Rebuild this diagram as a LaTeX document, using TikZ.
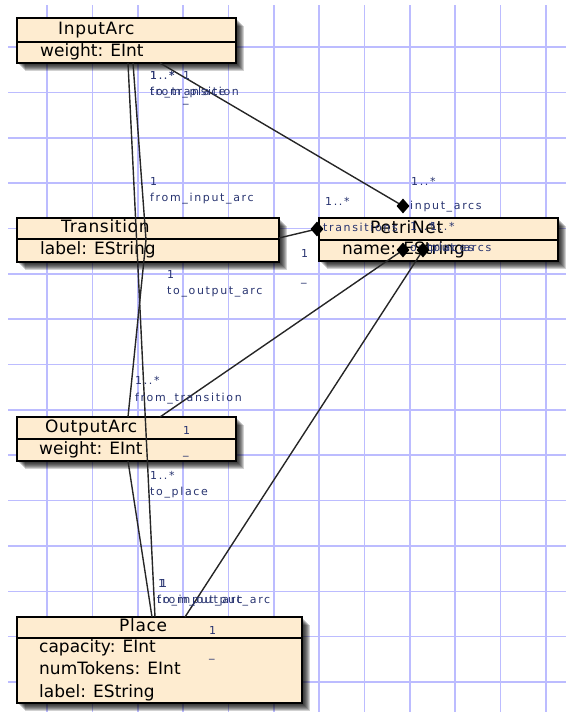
\documentclass[tikz,border=0pt]{standalone}
\usepackage{fontspec}
\setmainfont{DejaVu Sans}
\newfontfamily\lblfont{DejaVu Sans}[LetterSpace=15]
\newfontfamily\titlefont{DejaVu Sans}[LetterSpace=4]
\usetikzlibrary{shapes.geometric}

\definecolor{gridblue}{RGB}{188,188,255}
\definecolor{classfill}{RGB}{254,236,208}
\definecolor{rolecol}{RGB}{40,52,112}

\tikzset{
  gridline/.style={gridblue, line width=1.6pt},
  classbox/.style={draw=black, line width=1.5pt, fill=classfill, inner sep=0pt},
  divider/.style={draw=black, line width=1.5pt},
  classtext/.style={anchor=west, inner sep=0pt, font=\fontsize{17}{20}\selectfont,
    text height=12.5pt, text depth=3.5pt},
  classtitle/.style={classtext, font=\titlefont\fontsize{17}{20}\selectfont},
  rolelabel/.style={anchor=west, inner sep=0pt, text=rolecol,
    font=\lblfont\fontsize{11}{13}\selectfont, text height=8pt, text depth=2.5pt},
  assoc/.style={draw=black!85, line width=1.4pt},
  compdiamond/.style={diamond, fill=black, inner sep=0pt,
    minimum width=13pt, minimum height=15pt},
}

% soft drop shadow below and right of a class box (left, top, right, bottom)
\newcommand\castshadow[4]{%
  \foreach \k in {1,...,8}{%
    \fill[black,opacity=0.18] ({#1+\k},{#2+\k}) rectangle ({#3+\k},{#4+\k});}}

\begin{document}
\begin{tikzpicture}[x=1pt,y=-1pt]
\useasboundingbox (0,0) rectangle (566,724);

% background grid
\foreach \i in {0,...,11}
  \draw[gridline] ({47+45.35*\i},5) -- ({47+45.35*\i},712);
\foreach \j in {0,...,14}
  \draw[gridline] (8,{47+45.36*\j}) -- (566,{47+45.36*\j});

% shadows
\castshadow{17}{18}{236}{63}
\castshadow{17}{218}{279}{262}
\castshadow{319}{218}{558}{261}
\castshadow{17}{417}{236}{461}
\castshadow{17}{617}{302}{703}

% class boxes
\node[classbox, minimum width=219pt, minimum height=45pt] (inputarc) at (126.5,40.5) {};
\draw[divider] (inputarc.west |- 0,42) -- (inputarc.east |- 0,42);
\node[classtitle] (inputarc-name) at (58,30) {InputArc};
\node[classtext] (inputarc-weight) at (40,52) {weight: EInt};

\node[classbox, minimum width=262pt, minimum height=44pt] (transition) at (148,240) {};
\draw[divider] (transition.west |- 0,239) -- (transition.east |- 0,239);
\node[classtitle] (transition-name) at (61,228) {Transition};
\node[classtext] (transition-label) at (40,250) {label: EString};

\node[classbox, minimum width=239pt, minimum height=43pt] (petrinet) at (438.5,239.5) {};
\draw[divider] (petrinet.west |- 0,240) -- (petrinet.east |- 0,240);
\node[classtitle] (petrinet-name) at (370,229) {PetriNet};
\node[classtext] (petrinet-attr) at (342,250) {name: EString};

\node[classbox, minimum width=219pt, minimum height=44pt] (outputarc) at (126.5,439) {};
\draw[divider] (outputarc.west |- 0,439) -- (outputarc.east |- 0,439);
\node[classtitle] (outputarc-name) at (45,428) {OutputArc};
\node[classtext] (outputarc-weight) at (39,450) {weight: EInt};

\node[classbox, minimum width=285pt, minimum height=86pt] (place) at (159.5,660) {};
\draw[divider] (place.west |- 0,638) -- (place.east |- 0,638);
\node[classtitle] (place-name) at (119,627) {Place};
\node[classtext] (place-cap) at (39,648) {capacity: EInt};
\node[classtext] (place-tok) at (39,670) {numTokens: EInt};
\node[classtext] (place-label) at (39,693) {label: EString};

% connector end points
\coordinate (ia-pn) at (160,63);
\coordinate (ia-tr) at (133,63);
\coordinate (ia-pl) at (128,63);
\coordinate (tr-mid) at (146,240);
\coordinate (tr-pn) at (279,238);
\coordinate (oa-tr) at (128,417);
\coordinate (oa-pn) at (160,417);
\coordinate (oa-pl) at (128,461);
\coordinate (pl-ia) at (155,617);
\coordinate (pl-oa) at (152,617);
\coordinate (pl-pn) at (185,617);
\coordinate (pn-input) at (403,206);
\coordinate (pn-trans) at (317,229);
\coordinate (pn-output) at (403,250);
\coordinate (pn-places) at (423,250);

% associations
\draw[assoc] (ia-pn) -- (pn-input);
\draw[assoc] (ia-tr) -- (tr-mid);
\draw[assoc] (ia-pl) -- (pl-ia);
\draw[assoc] (tr-pn) -- (pn-trans);
\draw[assoc] (tr-mid) -- (oa-tr);
\draw[assoc] (oa-pn) -- (pn-output);
\draw[assoc] (oa-pl) -- (pl-oa);
\draw[assoc] (pl-pn) -- (pn-places);

% role names and multiplicities
\node[rolelabel] (m-ia-tr) at (150,77) {1..*};
\node[rolelabel] (m-ia-pl) at (150,77) {1..*};
\node[rolelabel] (m-ia-pn) at (183,77) {1};
\node[rolelabel] (r-ia-tr) at (150,93) {to\_transition};
\node[rolelabel] (r-ia-pl) at (150,93) {from\_place};
\node[rolelabel] (r-ia-pn) at (183,100) {\_};

\node[rolelabel] (m-tr-ia) at (150,183) {1};
\node[rolelabel] (r-tr-ia) at (150,199) {from\_input\_arc};
\node[rolelabel] (m-tr-oa) at (167,276) {1};
\node[rolelabel] (r-tr-oa) at (167,292) {to\_output\_arc};
\node[rolelabel] (m-tr-pn) at (301,255) {1};
\node[rolelabel] (r-tr-pn) at (301,279) {\_};

\node[rolelabel] (m-pn-tr) at (325,203) {1..*};
\node[rolelabel] (r-pn-tr) at (323,229) {transitions};
\node[rolelabel] (m-pn-ia) at (411,183) {1..*};
\node[rolelabel] (r-pn-ia) at (410,207) {input\_arcs};
\node[rolelabel] (m-pn-oa) at (410,228) {1..*};
\node[rolelabel] (r-pn-oa) at (410,249) {output\_arcs};
\node[rolelabel] (m-pn-pl) at (430,228) {1..*};
\node[rolelabel] (r-pn-pl) at (430,249) {places};

\node[rolelabel] (m-oa-tr) at (135,382) {1..*};
\node[rolelabel] (r-oa-tr) at (135,399) {from\_transition};
\node[rolelabel] (m-oa-pn) at (183,432) {1};
\node[rolelabel] (r-oa-pn) at (183,452) {\_};
\node[rolelabel] (m-oa-pl) at (150,477) {1..*};
\node[rolelabel] (r-oa-pl) at (150,493) {to\_place};

\node[rolelabel] (m-pl-ia) at (158,585) {1};
\node[rolelabel] (m-pl-oa) at (160,585) {1};
\node[rolelabel] (r-pl-ia) at (157,601) {to\_input\_arc};
\node[rolelabel] (r-pl-oa) at (157,601) {from\_output\_arc};
\node[rolelabel] (m-pl-pn) at (209,632) {1};
\node[rolelabel] (r-pl-pn) at (209,655) {\_};

% composition diamonds at the PetriNet ends
\node[compdiamond] (dia-input) at (pn-input) {};
\node[compdiamond] (dia-trans) at (pn-trans) {};
\node[compdiamond] (dia-output) at (pn-output) {};
\node[compdiamond] (dia-places) at (pn-places) {};
\end{tikzpicture}
\end{document}
